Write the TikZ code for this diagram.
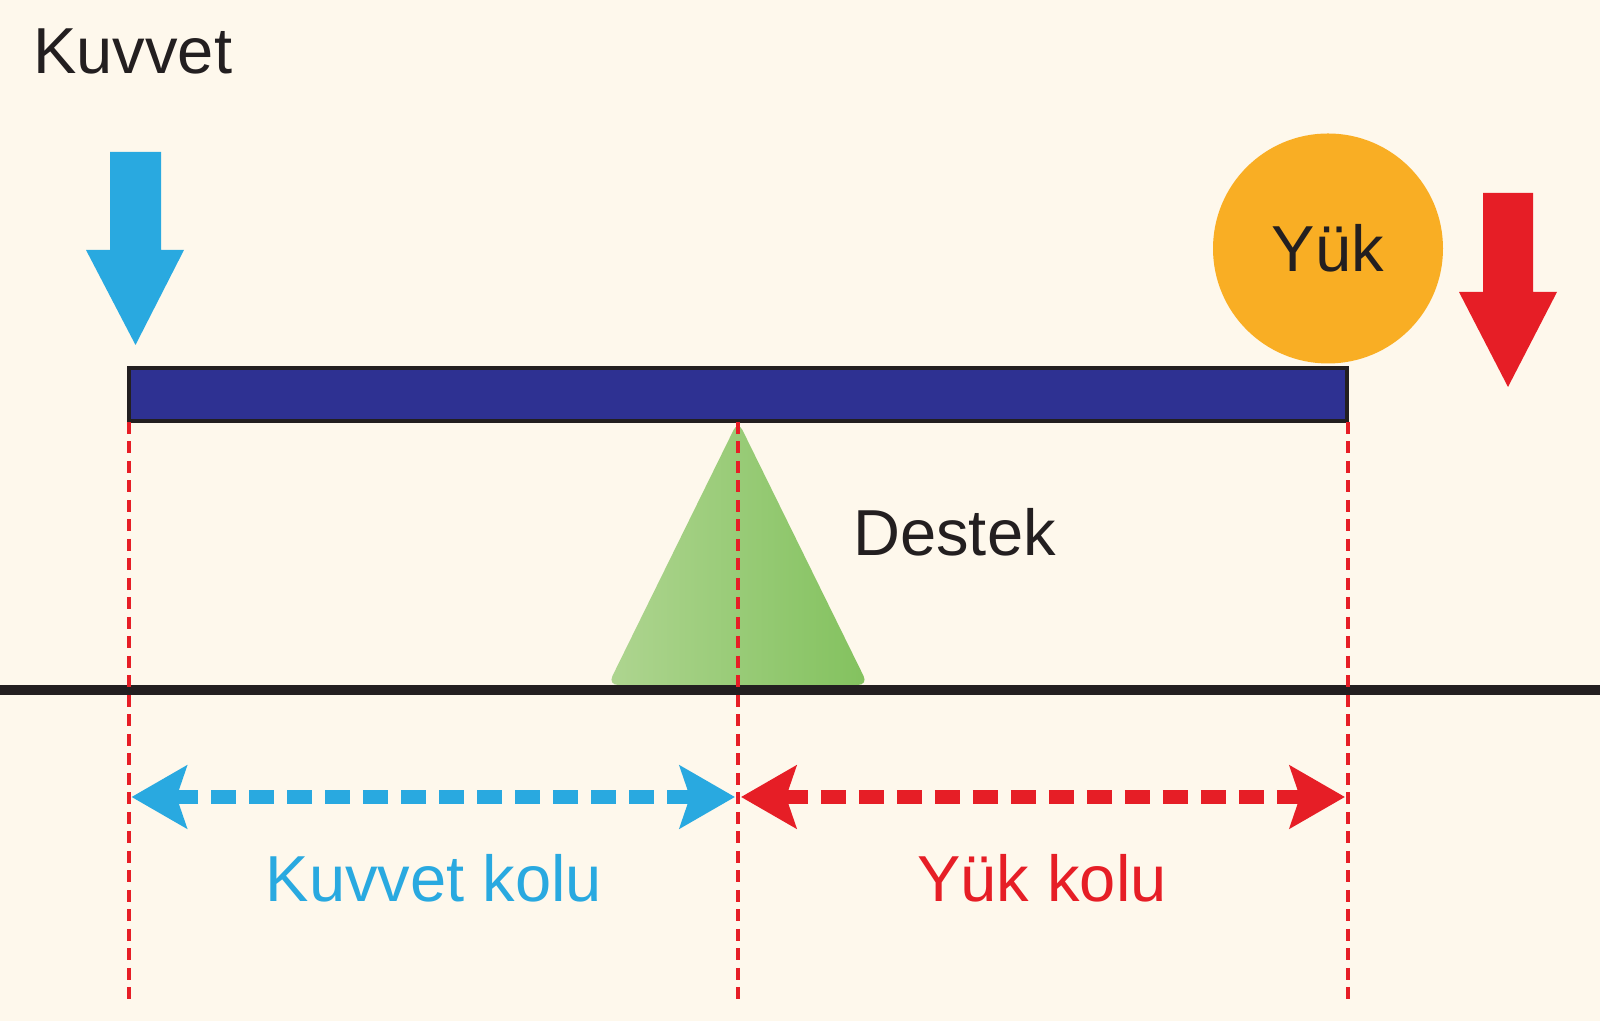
\documentclass[tikz,border=0pt]{standalone}
\usepackage{fontspec}
\setmainfont{Liberation Sans}
\usetikzlibrary{arrows.meta, positioning}
\definecolor{Cream}{HTML}{FEF8EC}
\definecolor{Sky}{HTML}{29A9E0}
\definecolor{Crimson}{HTML}{E61E26}
\definecolor{Amber}{HTML}{F9AE24}
\definecolor{Indigo}{HTML}{2E3192}
\definecolor{Leaf}{HTML}{6DB845}
\definecolor{Ink}{HTML}{231F20}

\begin{document}
\begin{tikzpicture}[
    lbl/.style={font=\fontsize{37}{44}\selectfont, text=Ink, inner sep=0pt},
    guide/.style={Crimson, line width=0.08cm, dash pattern=on 0.24cm off 0.15cm},
    span/.style={line width=0.28cm, dash pattern=on 0.5cm off 0.26cm,
        {Stealth[length=1.1cm, width=1.24cm, inset=0.2cm]}-{Stealth[length=1.1cm, width=1.24cm, inset=0.2cm]},
        shorten <=0.06cm, shorten >=0.06cm}
]

% background
\useasboundingbox (0,0) rectangle (32,20.42);
\fill[Cream] (0,0) rectangle (32,20.42);

% =============================================
% Support and ground
% =============================================
\shade[left color=Leaf!55!Cream, middle color=Leaf!95!black, right color=Leaf!85!Cream,
    rounded corners=0.2cm] (12.16,6.72) -- (14.76,12.0) -- (17.36,6.72) -- cycle;
\draw[Ink, line width=0.2cm] (0,6.62) -- (32,6.62);
\node[lbl, anchor=base west] (destek) at (17.06, 9.3) {Destek};

% =============================================
% Lever and load
% =============================================
\filldraw[fill=Indigo, draw=Ink, line width=0.08cm] (2.58,12.0) rectangle (26.94,13.06);
\node[circle, fill=Amber, minimum size=4.6cm, lbl] (yuk) at (26.56, 15.45) {Yük};

% force arrows
\node[lbl, anchor=base west] (kuvvet) at (0.66, 18.95) {Kuvvet};
\fill[Sky] (2.2,17.38) -- (3.22,17.38) -- (3.22,15.42) -- (3.68,15.42)
    -- (2.71,13.52) -- (1.72,15.42) -- (2.2,15.42) -- cycle;
\fill[Crimson] (29.66,16.56) -- (30.66,16.56) -- (30.66,14.58) -- (31.14,14.58)
    -- (30.16,12.68) -- (29.18,14.58) -- (29.66,14.58) -- cycle;

% =============================================
% Guides and arms
% =============================================
\coordinate (gLt) at (2.57, 11.98);
\coordinate (gLb) at (2.57, 0.32);
\coordinate (gMt) at (14.76, 11.98);
\coordinate (gMb) at (14.76, 0.32);
\coordinate (gRt) at (26.96, 11.98);
\coordinate (gRb) at (26.96, 0.32);
\draw[guide] (gLt) -- (gLb);
\draw[guide] (gMt) -- (gMb);
\draw[guide] (gRt) -- (gRb);

\coordinate (aL) at (2.57, 4.48);
\coordinate (aM) at (14.76, 4.48);
\coordinate (aR) at (26.96, 4.48);
\draw[span, Sky] (aL) -- (aM);
\draw[span, Crimson] (aM) -- (aR);

\node[lbl, anchor=base, text=Sky] (kkolu) at (8.68, 2.38) {Kuvvet kolu};
\node[lbl, anchor=base, text=Crimson] (ykolu) at (20.84, 2.38) {Yük kolu};

\end{tikzpicture}
\end{document}
